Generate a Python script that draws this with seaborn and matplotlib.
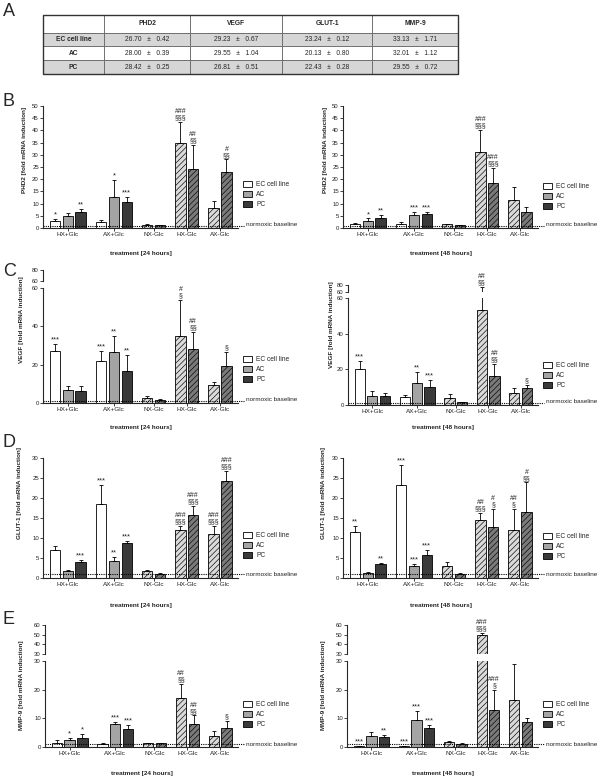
import numpy as np
import pandas as pd
import matplotlib
matplotlib.use('Agg')
import matplotlib.pyplot as plt
import matplotlib.patches as mpatches
import seaborn as sns

sns.set_style('ticks')
plt.rcParams['font.family'] = ['Liberation Sans', 'DejaVu Sans']
plt.rcParams['hatch.linewidth'] = 0.45

# ---- data ----
groups = ['HX+Glc', 'AX+Glc', 'NX-Glc', 'HX-Glc', 'AX-Glc']
cells = ['EC cell line', 'AC', 'PC']

# panel A: Ct values
table_genes = ['PHD2', 'VEGF', 'GLUT-1', 'MMP-9']
table_rows = ['EC cell line', 'AC', 'PC']
ct_mean = [[26.70, 29.23, 23.24, 33.13],
           [28.00, 29.55, 20.13, 32.01],
           [28.42, 26.81, 22.43, 29.55]]
ct_sd = [[0.42, 0.67, 0.12, 1.71],
         [0.39, 1.04, 0.80, 1.12],
         [0.25, 0.51, 0.28, 0.72]]

# bar order: HX+Glc (EC, AC, PC), AX+Glc (EC, AC, PC), NX-Glc (AC, PC), HX-Glc (AC, PC), AX-Glc (AC, PC)
phd2_24_mean = [2.8, 5.0, 6.7, 2.4, 12.8, 10.5, 1.4, 1.1, 34.9, 24.2, 8.2, 22.8]
phd2_24_sd = [0.9, 1.1, 1.0, 1.0, 6.8, 2.3, 0.2, 0.2, 8.6, 9.8, 2.9, 5.3]
phd2_24_sig = ['*', '', '**', '', '*', '***', '', '', '###\n§§§', '##\n§§', '', '#\n§§']

phd2_48_mean = [1.8, 3.0, 4.2, 1.6, 5.3, 5.6, 1.5, 1.1, 31.3, 18.5, 11.5, 6.5]
phd2_48_sd = [0.2, 0.9, 1.1, 0.8, 1.4, 1.1, 0.3, 0.1, 8.8, 6.1, 5.2, 2.1]
phd2_48_sig = ['', '*', '**', '', '***', '***', '', '', '###\n§§§', '###\n§§§', '', '']

vegf_24_mean = [27.1, 6.6, 6.1, 22.0, 26.4, 16.8, 2.6, 1.7, 35.0, 28.0, 9.6, 19.4]
vegf_24_sd = [3.7, 2.1, 2.6, 5.3, 8.4, 8.5, 0.9, 0.6, 18.8, 9.2, 1.1, 7.3]
vegf_24_sig = ['***', '', '', '***', '**', '**', '', '', '#\n§', '##\n§§', '', '§']

vegf_48_mean = [20.4, 5.1, 5.1, 4.7, 12.6, 10.3, 3.9, 1.5, 53.5, 16.5, 6.9, 9.8]
vegf_48_sd = [4.5, 2.8, 1.8, 0.9, 6.0, 3.8, 2.1, 0.4, 20.0, 6.4, 2.9, 1.5]
vegf_48_sig = ['***', '', '', '', '**', '***', '', '', '##\n§§', '##\n§§', '', '§']

glut1_24_mean = [7.0, 1.7, 4.0, 18.4, 4.25, 8.7, 1.75, 1.1, 11.9, 15.75, 11.0, 24.3]
glut1_24_sd = [1.0, 0.3, 0.5, 4.9, 1.0, 0.55, 0.25, 0.05, 1.1, 2.25, 2.0, 2.45]
glut1_24_sig = ['', '', '***', '***', '**', '***', '', '', '###\n§§§', '###\n§§§', '###\n§§§', '###\n§§§']

glut1_48_mean = [11.5, 1.25, 3.4, 23.25, 3.0, 5.8, 3.1, 1.1, 14.5, 12.75, 12.0, 16.4]
glut1_48_sd = [1.4, 0.25, 0.4, 5.05, 0.5, 1.3, 0.8, 0.05, 1.75, 4.55, 5.3, 7.5]
glut1_48_sig = ['**', '', '**', '***', '***', '***', '', '', '##\n§§§', '#\n§', '##\n§', '#\n§§']

mmp9_24_mean = [1.4, 2.6, 3.1, 0.9, 8.1, 6.4, 1.3, 1.3, 17.2, 8.1, 4.0, 6.6]
mmp9_24_sd = [1.2, 0.5, 1.3, 0.5, 0.6, 1.4, 0.1, 0.1, 4.9, 2.9, 1.7, 2.4]
mmp9_24_sig = ['', '*', '*', '', '***', '***', '', '', '##\n§§', '##\n§§', '', '§']

mmp9_48_mean = [0.3, 3.7, 3.5, 0.3, 9.5, 6.5, 1.7, 1.2, 50.1, 13.0, 16.3, 8.6]
mmp9_48_sd = [0.0, 1.4, 0.6, 0.0, 3.1, 1.1, 0.5, 0.1, 2.1, 7.0, 12.5, 1.6]
mmp9_48_sig = ['***', '', '**', '***', '***', '***', '', '', '###\n§§§', '###\n§', '', '']

baseline = 1.0

# ---- bar layout ----
bar_group, bar_kind = [], []
for g in groups:
    plus = g.endswith('+Glc')
    for c in (cells if plus else cells[1:]):
        bar_group.append(g)
        bar_kind.append(c if plus else c + ' -Glc')
pos = []
x = 0.0
for i, g in enumerate(bar_group):
    if i > 0:
        x += 1.0 if g == bar_group[i - 1] else 1.6
    pos.append(round(x, 3))
pos_arr = np.array(pos)
centers = [pos_arr[[j for j, gg in enumerate(bar_group) if gg == g]].mean() for g in groups]

kinds = ['EC cell line', 'AC', 'PC', 'AC -Glc', 'PC -Glc']
palette = {'EC cell line': 'white', 'AC': '#a4a4a4', 'PC': '#3a3a3a',
           'AC -Glc': '#dadada', 'PC -Glc': '#7a7a7a'}
hatches = {'AC -Glc': '//////', 'PC -Glc': '//////'}

W, H = 600, 779
fig = plt.figure(figsize=(W / 100, H / 100), dpi=100)


def box(l, t, r, b):
    return [l / W, 1 - b / H, (r - l) / W, (b - t) / H]


def style_axis(ax, yticks, ylim):
    ax.set_ylim(*ylim)
    ax.set_yticks(yticks)
    ax.set_xlim(-0.95, pos[-1] + 0.9)
    for s in ['top', 'right']:
        ax.spines[s].set_visible(False)
    for s in ['left', 'bottom']:
        ax.spines[s].set_linewidth(0.8)
    ax.tick_params(axis='both', direction='out', length=2, width=0.6,
                   labelsize=4.3, pad=1, colors='#222')
    ax.set_xlabel('')
    ax.set_ylabel('')


def draw_bars(ax, mean, sd):
    df = pd.DataFrame({'pos': pos, 'val': mean, 'kind': bar_kind})
    sns.barplot(data=df, x='pos', y='val', hue='kind', hue_order=kinds, palette=palette,
                native_scale=True, dodge=False, width=0.82, errorbar=None, legend=False,
                saturation=1, edgecolor='black', linewidth=0.6, ax=ax)
    for p in ax.patches:
        cx = p.get_x() + p.get_width() / 2
        i = int(np.argmin(np.abs(pos_arr - cx)))
        if bar_kind[i] in hatches:
            p.set_hatch(hatches[bar_kind[i]])
    ax.errorbar(pos, mean, yerr=[np.zeros(len(sd)), sd], fmt='none', ecolor='black',
                elinewidth=0.6, capsize=1.5, capthick=0.6)


def panel(mean, sd, sig, gene, hours, main, ylim, yticks, top, toplim, topticks,
          ylab_xy, legend_xy, xlab_y):
    ax = fig.add_axes(box(*main))
    draw_bars(ax, mean, sd)
    style_axis(ax, yticks, ylim)
    ax.set_xticks(centers)
    ax.set_xticklabels(groups, fontsize=4.6)
    ax.axhline(baseline, xmin=0, xmax=1.03, ls=(0, (1, 1)), color='black', lw=0.8, clip_on=False)
    ax.text(1.04, 0.03, 'normoxic baseline', transform=ax.transAxes, fontsize=4.6,
            va='center', ha='left', color='#222')
    axt = None
    if top is not None:
        axt = fig.add_axes(box(*top))
        draw_bars(axt, mean, sd)
        style_axis(axt, topticks, toplim)
        axt.spines['bottom'].set_visible(False)
        axt.set_xticks([])
        axt.patch.set_alpha(0)
    for i, s in enumerate(sig):
        if not s:
            continue
        y = mean[i] + sd[i]
        a = axt if (axt is not None and y > ylim[1]) else ax
        a.annotate(s, (pos[i], y), xytext=(0, 0.4), textcoords='offset points',
                   ha='center', va='bottom', fontsize=5.4 if '*' in s else 5.0,
                   linespacing=0.85, annotation_clip=False, color='#222')
    fig.text(ylab_xy[0] / W, 1 - ylab_xy[1] / H, f'{gene} [fold mRNA induction]',
             rotation=90, ha='center', va='center', fontsize=4.6, fontweight='bold')
    fig.text((main[0] + main[2]) / 2 / W, 1 - xlab_y / H, f'treatment [{hours} hours]',
             ha='center', va='center', fontsize=4.6, fontweight='bold')
    handles = [mpatches.Patch(facecolor=palette[c], edgecolor='black', linewidth=0.6) for c in cells]
    fig.legend(handles, cells, loc='upper left', bbox_to_anchor=(legend_xy[0] / W, 1 - legend_xy[1] / H),
               bbox_transform=fig.transFigure, frameon=False, fontsize=4.8, handlelength=1.4,
               handleheight=0.9, labelspacing=0.45, handletextpad=0.6, borderpad=0, borderaxespad=0)


# ---- panel A: table ----
tax = fig.add_axes(box(43, 15, 458, 74))
tax.axis('off')
cell_text = [[''] + table_genes]
for r, mr, sr in zip(table_rows, ct_mean, ct_sd):
    cell_text.append([r] + [f'{m:.2f}   ±   {s:.2f}' for m, s in zip(mr, sr)])
cw = np.array([61, 86, 92, 90, 86], dtype=float)
tbl = tax.table(cellText=cell_text, cellLoc='center', colWidths=list(cw / cw.sum()), bbox=[0, 0, 1, 1])
tbl.auto_set_font_size(False)
tbl.set_fontsize(4.8)
for (r, c), cell in tbl.get_celld().items():
    cell.set_height(0.3 if r == 0 else 0.233)
    cell.set_edgecolor('#666666')
    cell.set_linewidth(0.6)
    cell.set_facecolor('#d6d6d6' if r in (1, 3) else 'white')
    if r == 0 or c == 0:
        cell.get_text().set_fontweight('bold')
tax.add_patch(mpatches.Rectangle((0, 0), 1, 1, transform=tax.transAxes, fill=False,
                                 edgecolor='#333', lw=1.0, clip_on=False))

# ---- panels B-E ----
panel(phd2_24_mean, phd2_24_sd, phd2_24_sig, 'PHD2', 24, (43, 106, 238, 228), (0, 50),
      np.arange(0, 51, 5), None, None, None, (25, 150), (243, 181), 254)
panel(phd2_48_mean, phd2_48_sd, phd2_48_sig, 'PHD2', 48, (343, 106, 538, 228), (0, 50),
      np.arange(0, 51, 5), None, None, None, (325, 150), (543, 183), 254)
panel(vegf_24_mean, vegf_24_sd, vegf_24_sig, 'VEGF', 24, (43, 288, 238, 403), (0, 60),
      [0, 20, 40, 60], (43, 270, 238, 281), (60, 80), [60, 80], (22, 320), (243, 356), 428)
panel(vegf_48_mean, vegf_48_sd, vegf_48_sig, 'VEGF', 48, (348, 298, 538, 405), (0, 60),
      [0, 20, 40, 60], (348, 285, 538, 292), (60, 80), [60, 80], (331, 325), (543, 362), 428)
panel(glut1_24_mean, glut1_24_sd, glut1_24_sig, 'GLUT-1', 24, (43, 458, 238, 578), (0, 30),
      np.arange(0, 31, 5), None, None, None, (20, 493), (243, 532), 605)
panel(glut1_48_mean, glut1_48_sd, glut1_48_sig, 'GLUT-1', 48, (343, 458, 538, 578), (0, 30),
      np.arange(0, 31, 5), None, None, None, (323, 493), (543, 533), 605)
panel(mmp9_24_mean, mmp9_24_sd, mmp9_24_sig, 'MMP-9', 24, (45, 661, 238, 747), (0, 30),
      [0, 10, 20, 30], (45, 625, 238, 654), (30, 60), [30, 40, 50, 60], (22, 685), (243, 701), 773)
panel(mmp9_48_mean, mmp9_48_sd, mmp9_48_sig, 'MMP-9', 48, (347, 661, 538, 747), (0, 30),
      [0, 10, 20, 30], (347, 625, 538, 654), (30, 60), [30, 40, 50, 60], (323, 685), (543, 701), 773)

for letter, y in zip('ABCDE', [12, 102, 272, 443, 620]):
    fig.text(3 / W, 1 - y / H, letter, fontsize=13, ha='left', va='center')

fig.savefig('out.png', dpi=100)
